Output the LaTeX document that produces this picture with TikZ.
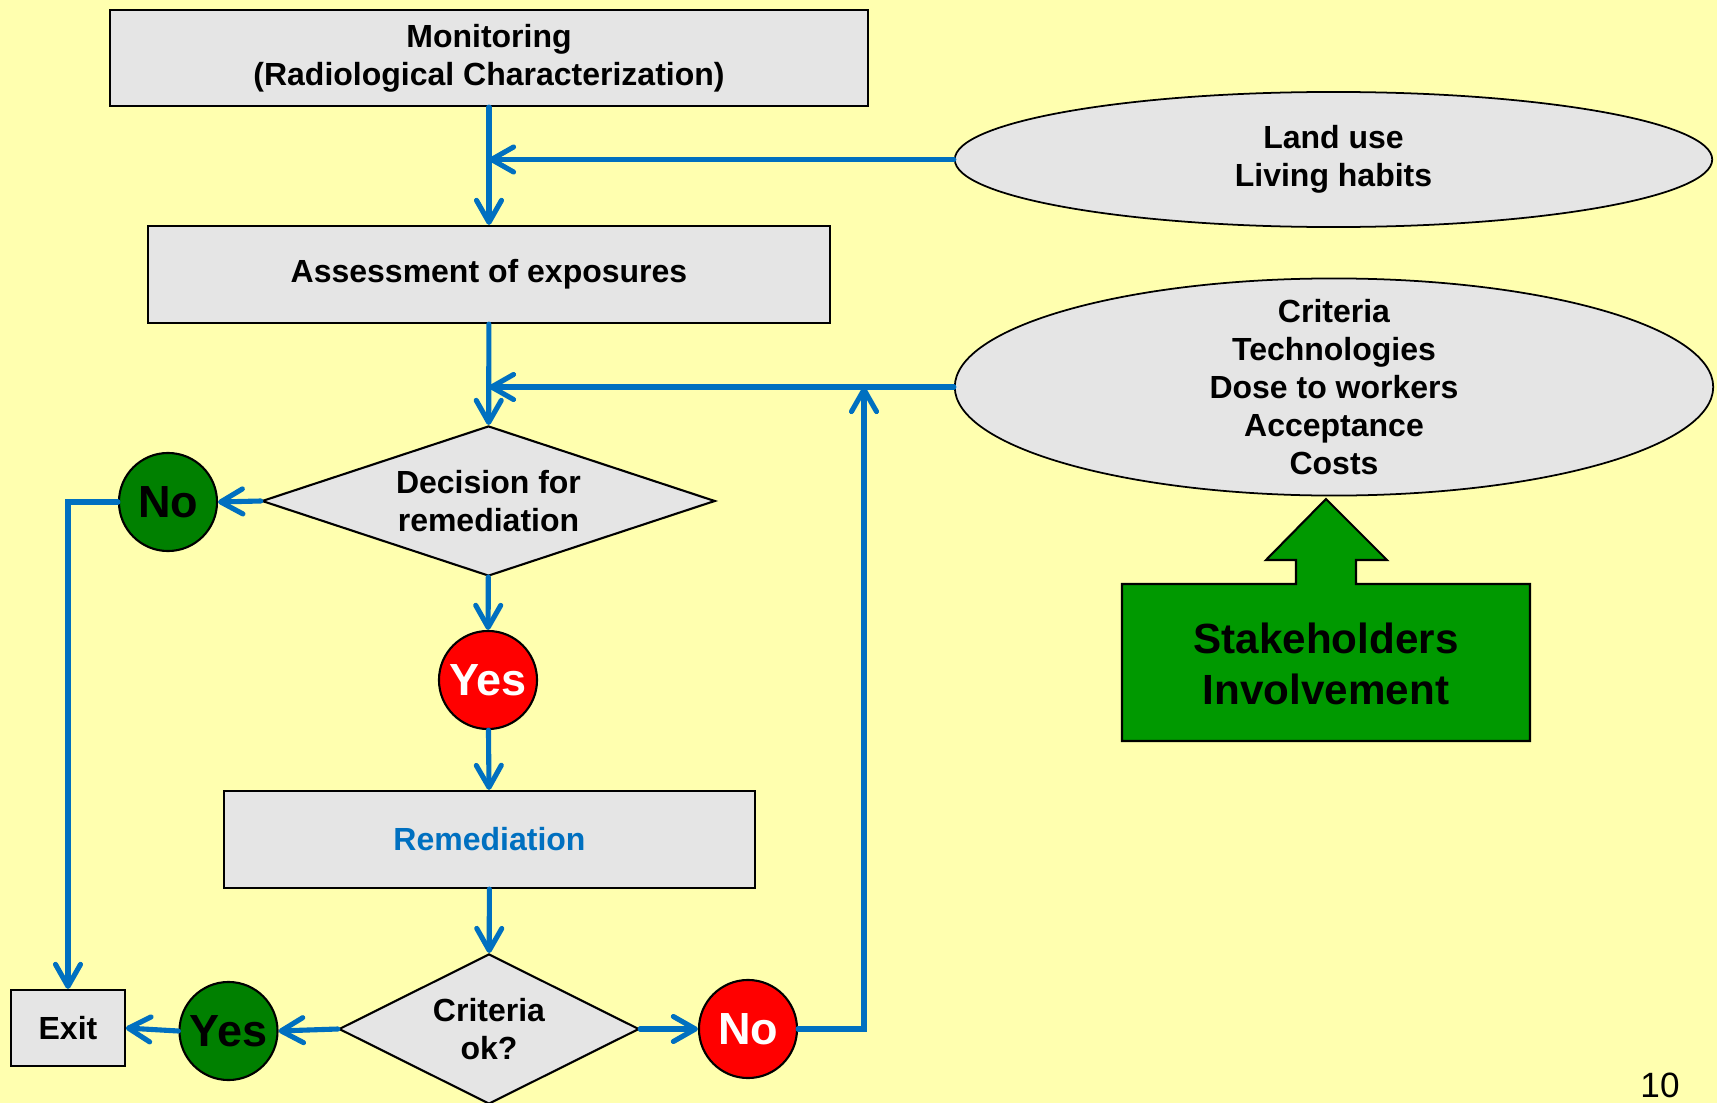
\documentclass[tikz,border=0pt]{standalone}
\usepackage{fontspec}
\setmainfont{Liberation Sans}
\usetikzlibrary{shapes.geometric,arrows.meta}
\definecolor{bgyellow}{RGB}{255,255,175}
\definecolor{boxgray}{RGB}{229,229,229}
\definecolor{flowblue}{RGB}{0,112,192}
\definecolor{nogreen}{RGB}{0,128,0}
\definecolor{stakegreen}{RGB}{0,153,0}
\tikzset{
  txt/.style={font=\fontsize{9.1}{10.85}\selectfont\bfseries, align=center},
  stepbox/.style={txt, rectangle, draw, fill=boxgray, line width=0.6pt, inner sep=0pt},
  infoellipse/.style={txt, ellipse, draw, fill=boxgray, line width=0.5pt},
  decide/.style={txt, diamond, draw, fill=boxgray, line width=0.6pt, inner sep=0pt},
  answer/.style={circle, draw, line width=0.6pt, minimum size=0.98cm, inner sep=0pt,
    font=\fontsize{12.8}{14}\selectfont\bfseries},
  flowline/.style={->, draw=flowblue, line width=1.45pt, line cap=round},
}

\begin{document}
\begin{tikzpicture}[x=0.01cm, y=-0.01cm, >={Straight Barb[length=2.2mm,width=2.5mm,round]}]
    \fill[bgyellow] (0,0) rectangle (1717,1103);
    \useasboundingbox (0,0) rectangle (1717,1103);
        % main column
        \node[stepbox, minimum width=7.57cm, minimum height=0.96cm] (mon) at (489,58) {Monitoring\\(Radiological Characterization)};
        \node[stepbox, minimum width=6.81cm, minimum height=0.97cm] (assess) at (489,274.5) {Assessment of exposures};
        \node[decide, shape aspect=3, minimum width=4.53cm, minimum height=1.5cm] (dec) at (488.5,501) {Decision for\\remediation};
        \node[answer, fill=nogreen] (decno) at (168,502) {No};
        \node[answer, fill=red, text=white] (decyes) at (488,680) {Yes};
        \node[stepbox, minimum width=5.31cm, minimum height=0.97cm, text=flowblue] (rem) at (489.5,839.5) {Remediation};
        \node[decide, shape aspect=2, minimum width=3cm, minimum height=1.5cm] (chk) at (489,1029) {Criteria\\ok?};
        \node[answer, fill=nogreen] (chkyes) at (228.5,1031) {Yes};
        \node[answer, fill=red, text=white] (chkno) at (748,1029) {No};
        \node[stepbox, minimum width=1.135cm, minimum height=0.76cm] (exit) at (68,1028) {Exit};
        % inputs on the right
        \node[infoellipse, minimum width=7.57cm, minimum height=1.35cm] (land) at (1333.5,159.5) {Land use\\Living habits};
        \node[infoellipse, minimum width=7.58cm, minimum height=2.17cm, inner ysep=-0.17cm] (crit) at (1334,387) {Criteria\\Technologies\\Dose to workers\\Acceptance\\Costs};
        \coordinate (loop) at (864,387);
        \draw[fill=stakegreen, line width=0.6pt] (1122,741) -- (1122,584) -- (1296,584) -- (1296,560) -- (1266,560)
            -- (1326,499) -- (1387,560) -- (1356,560) -- (1356,584) -- (1530,584) -- (1530,741) -- cycle;
        \node[font=\fontsize{12}{14.65}\selectfont\bfseries, align=center] (stake) at (1326,664) {Stakeholders\\Involvement};
        \node[font=\fontsize{10}{12}\selectfont] (page) at (1660,1085) {10};
        % connectors
        \draw[flowline] (mon) -- (assess);
        \draw[flowline] (land) -- (land -| mon);
        \draw[flowline] (assess) -- (dec);
        \draw[flowline] (crit) -- (crit -| assess);
        \draw[flowline] (dec.west) -- (decno.east);
        \draw[flowline] (dec) -- (decyes);
        \draw[flowline] (decyes) -- (rem);
        \draw[flowline] (decno.west) -| (exit.north);
        \draw[flowline] (rem) -- (chk);
        \draw[flowline] (chk.west) -- (chkyes.east);
        \draw[flowline] (chkyes.west) -- (exit.east);
        \draw[flowline] (chk.east) -- (chkno.west);
        \draw[flowline] (chkno.east) -| (loop);
    \end{tikzpicture}
\end{document}
